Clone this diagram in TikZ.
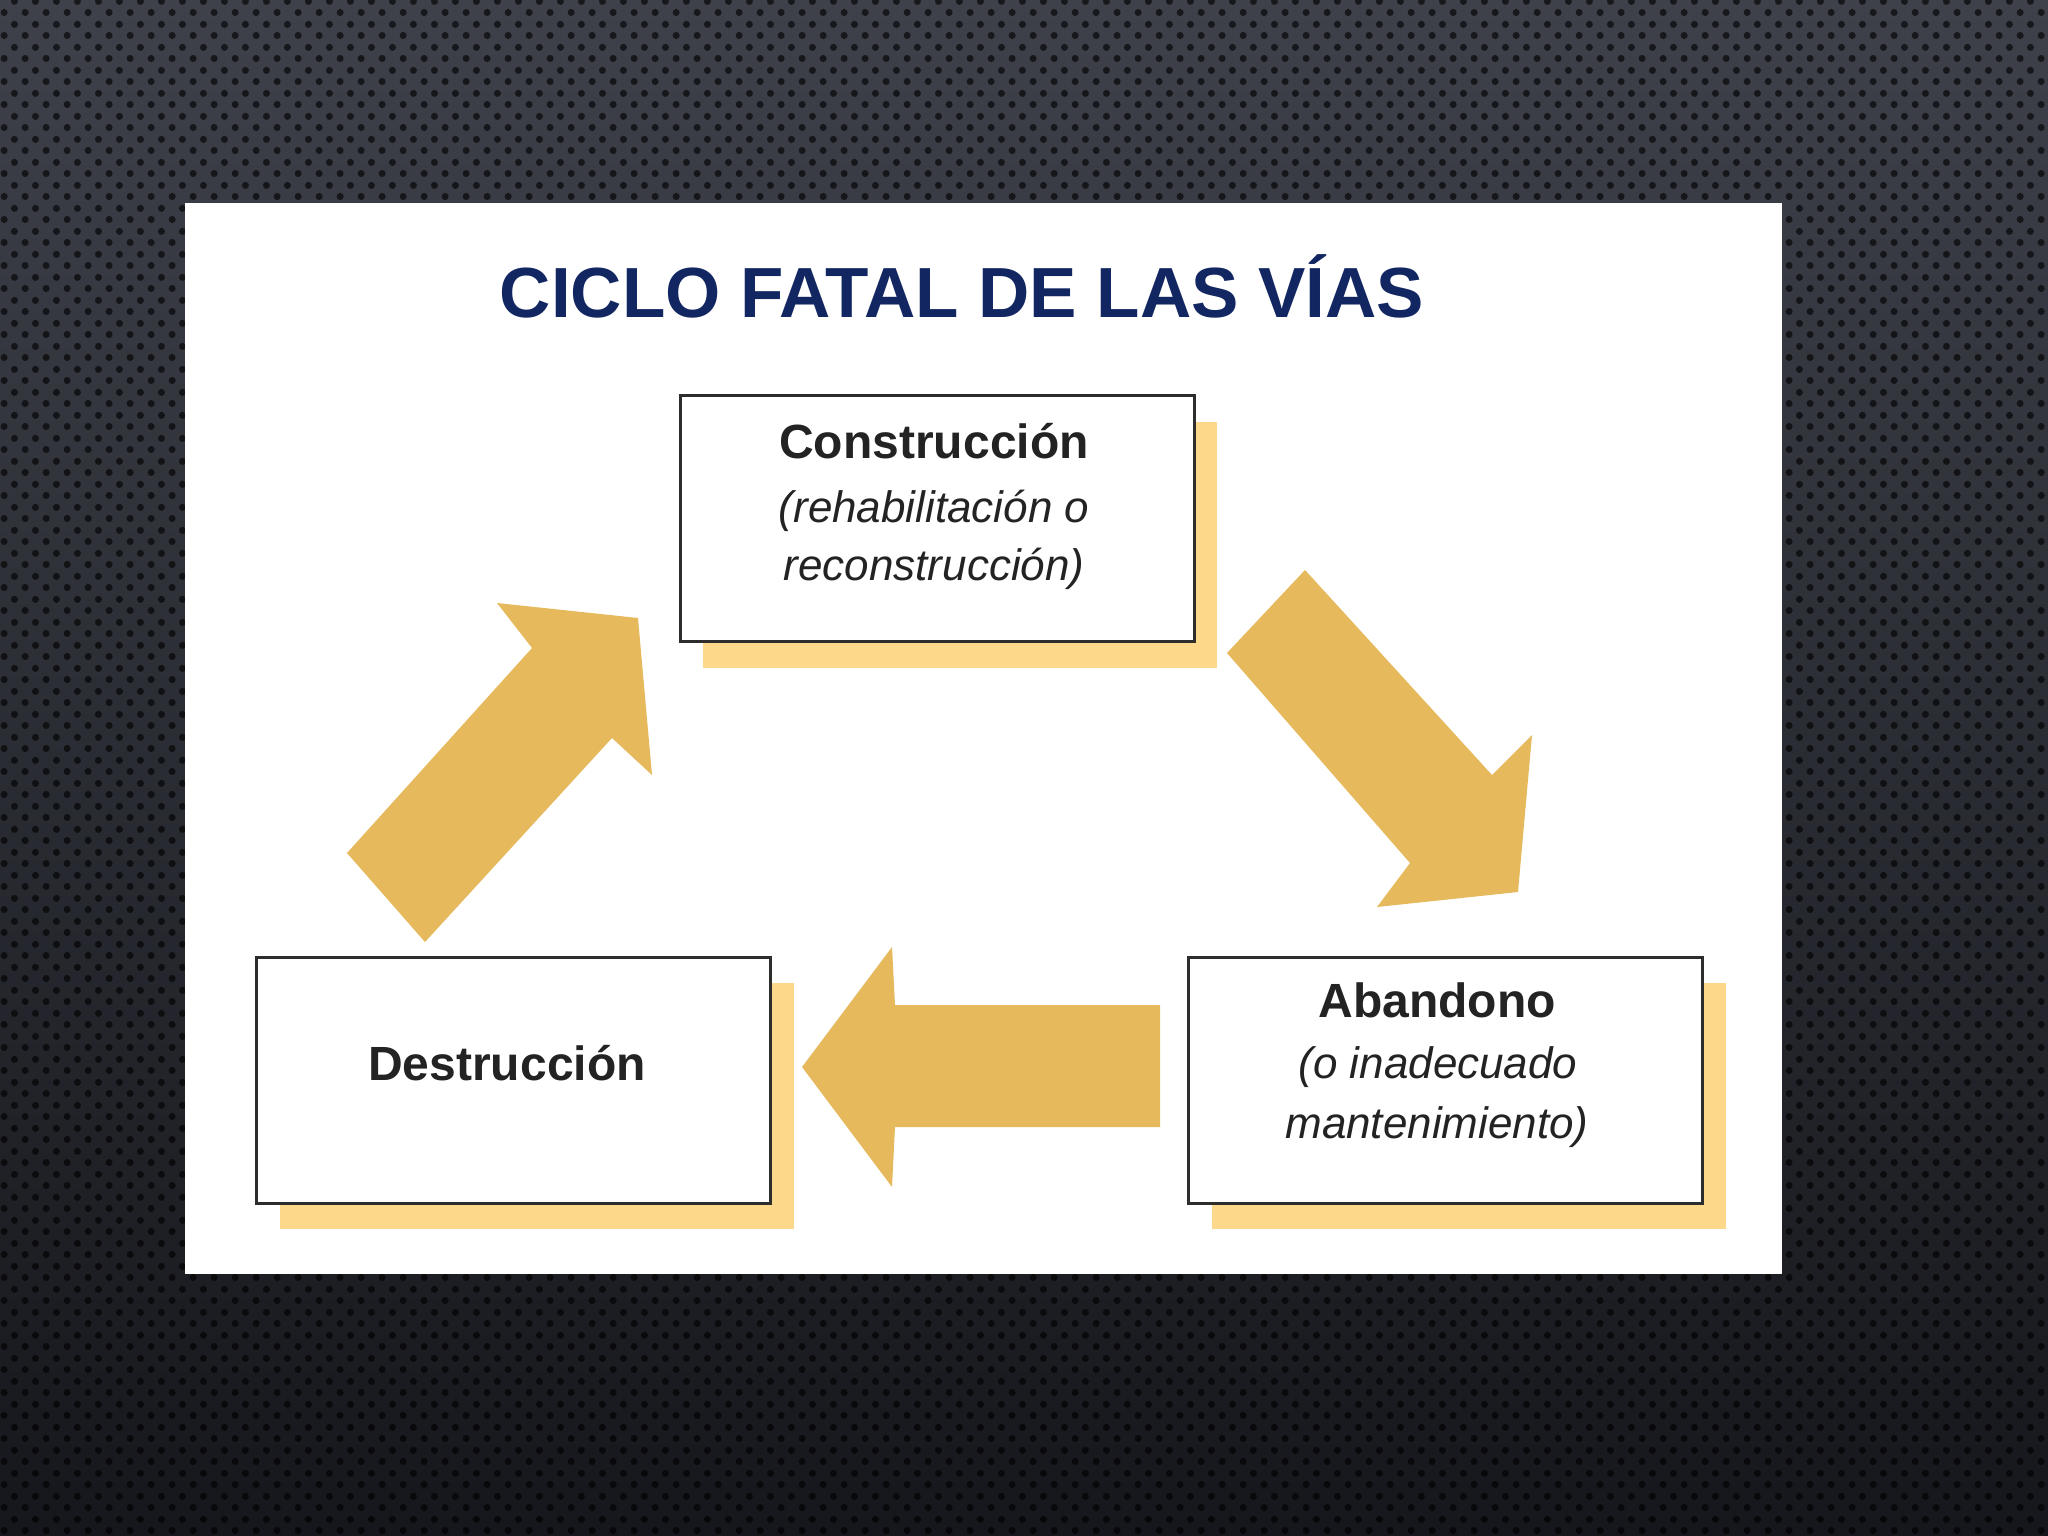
\documentclass[tikz,border=0pt]{standalone}
\usepackage{fontspec}
\setmainfont{Liberation Sans}
\usetikzlibrary{patterns.meta}
\definecolor{bgtop}{RGB}{62,65,74}
\definecolor{bgmid}{RGB}{42,44,52}
\definecolor{bgbot}{RGB}{22,23,28}
\definecolor{titleblue}{RGB}{18,38,98}
\definecolor{arrowgold}{RGB}{230,185,92}
\definecolor{shadowyellow}{RGB}{253,216,138}
\definecolor{boxline}{RGB}{45,45,45}
\definecolor{textdark}{RGB}{35,35,35}
\tikzdeclarepattern{
  name=bgdots,
  type=uncolored,
  bottom left={(0pt,0pt)},
  top right={(21.3pt,22.6pt)},
  tile size={(21.3pt,22.6pt)},
  code={
    \fill (5.3pt,5.6pt) circle (3.6pt);
    \fill (15.95pt,16.9pt) circle (3.6pt);
  }
}
\tikzset{
  boxnode/.style={draw=boxline, line width=3pt, fill=white, minimum width=514pt, minimum height=246pt, inner sep=0pt},
  shadownode/.style={fill=shadowyellow, minimum width=514pt, minimum height=246pt, inner sep=0pt},
  headtext/.style={anchor=base, inner sep=0pt, text=textdark, font=\fontsize{48}{58}\selectfont\bfseries},
  subtext/.style={anchor=base, inner sep=0pt, text=textdark, font=\fontsize{44}{60}\selectfont\itshape},
  titletext/.style={anchor=base, inner sep=0pt, text=titleblue, font=\fontsize{71}{85}\selectfont\bfseries},
  blockarrow/.style={fill=arrowgold}
}
\begin{document}
\begin{tikzpicture}[x=1pt,y=-1pt]
\useasboundingbox (0,0) rectangle (2048,1536);
% background
\shade[top color=bgtop, middle color=bgmid, bottom color=bgbot] (0,0) rectangle (2048,1536);
\fill[pattern=bgdots, pattern color=black, fill opacity=0.62] (0,0) rectangle (2048,1536);
% white panel
\fill[white] (185,203) rectangle (1782,1274);
% title
\node[titletext] (title) at (962,317) {CICLO FATAL DE LAS VÍAS};
% shadows
\node[shadownode] (cons-sh) at (960,544.5) {};
\node[shadownode] (aban-sh) at (1468.5,1106) {};
\node[shadownode] (dest-sh) at (536.5,1106) {};
% boxes
\node[boxnode] (cons) at (937,518.5) {};
\node[boxnode] (aban) at (1445.5,1080) {};
\node[boxnode] (dest) at (513.5,1080) {};
% texts
\node[headtext] (cons-t) at (934,458) {Construcción};
\node[subtext] (cons-s1) at (934,522) {(rehabilitación o};
\node[subtext] (cons-s2) at (934,580) {reconstrucción)};
\node[headtext] (aban-t) at (1437,1017) {Abandono};
\node[subtext] (aban-s1) at (1438,1078) {(o inadecuado};
\node[subtext] (aban-s2) at (1437,1138) {mantenimiento)};
\node[headtext] (dest-t) at (507,1080) {Destrucción};
% block arrows
\fill[blockarrow] (347,853) -- (425,942) -- (612,738) -- (652,775) -- (638,618) -- (497,603) -- (532,648) -- cycle;
\fill[blockarrow] (1305,570) -- (1227,653) -- (1410,863) -- (1377,907) -- (1518,892) -- (1532,735) -- (1492,775) -- cycle;
\fill[blockarrow] (802,1067) -- (892,947) -- (895,1005) -- (1160,1005) -- (1160,1127) -- (895,1127) -- (892,1187) -- cycle;
\end{tikzpicture}
\end{document}
